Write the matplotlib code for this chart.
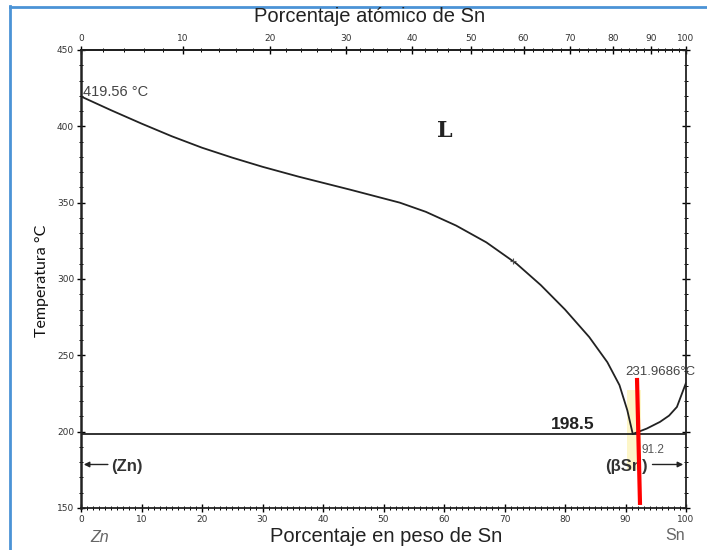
import matplotlib
matplotlib.use("Agg")
import matplotlib.pyplot as plt
import numpy as np
from matplotlib.lines import Line2D
from matplotlib.patches import Rectangle
from matplotlib.ticker import MultipleLocator

# Zn-Sn phase diagram (peso % Sn vs temperatura)
M_SN = 118.71
M_ZN = 65.38

# liquidus del lado Zn hasta el eutectico
liq_zn_wt = [0, 5, 10, 15, 20, 25, 30, 36, 44.5, 52.7, 57, 62, 67, 72, 76,
             80, 84, 87, 89, 90.3, 91.2]
liq_zn_T = [419.56, 410.5, 401.8, 393.5, 386.0, 379.5, 373.5, 367.0, 358.5, 350.0, 344.0,
            335.0, 324.0, 310.0, 296.0, 280.0, 262.0, 245.5, 230.5, 214.0, 198.5]

# liquidus del lado Sn
liq_sn_wt = [91.2, 93.5, 95.7, 97.2, 98.5, 100]
liq_sn_T = [198.5, 202.0, 206.4, 210.5, 216.2, 231.9686]

eutectic_T = 198.5

# linea roja marcada sobre el diagrama
red_wt = [91.9, 92.4]
red_T = [235.2, 152.0]

y_ticks = [150, 200, 250, 300, 350, 400, 450]
x_ticks = list(range(0, 101, 10))
at_ticks = list(range(0, 101, 10))


def wt_to_at(w):
    w = np.asarray(w, dtype=float)
    a = w / M_SN
    b = (100 - w) / M_ZN
    return 100 * a / (a + b)


def at_to_wt(x):
    x = np.asarray(x, dtype=float)
    a = x * M_SN
    b = (100 - x) * M_ZN
    return 100 * a / (a + b)


fig = plt.figure(figsize=(7.07, 5.5), dpi=100)
fig.patch.set_facecolor("white")
ax = fig.add_axes([81 / 707, 1 - 508 / 550, 605 / 707, 458 / 550])

line_kw = dict(color="#222222", lw=1.3, solid_joinstyle="round", solid_capstyle="round")
ax.plot(liq_zn_wt, liq_zn_T, **line_kw)
ax.plot(liq_sn_wt, liq_sn_T, **line_kw)
ax.plot([0, 100], [eutectic_T, eutectic_T], **line_kw)
ax.plot([71.4], [311.5], marker="+", ms=5, mew=0.8, color="#555555")

# zona resaltada en amarillo junto al eutectico
ax.add_patch(Rectangle((90.3, 175), 2.2, 52, facecolor="#fdf6c8", edgecolor="none", zorder=0))
ax.plot(red_wt, red_T, color="#ff0000", lw=3.0, solid_capstyle="butt", clip_on=False, zorder=5)

ax.set_xlim(0, 100)
ax.set_ylim(150, 450)
ax.set_xticks(x_ticks)
ax.set_yticks(y_ticks)
ax.xaxis.set_minor_locator(MultipleLocator(1))
ax.yaxis.set_minor_locator(MultipleLocator(10))
ax.tick_params(which="major", direction="inout", length=6, width=1.0, labelsize=6.5,
               labelcolor="#333333", right=True, pad=2)
ax.tick_params(which="minor", direction="inout", length=3, width=0.7, right=True)
for s in ax.spines.values():
    s.set_linewidth(1.3)
    s.set_color("#222222")
ax.spines["left"].set_linewidth(1.8)

top = ax.secondary_xaxis("top", functions=(wt_to_at, at_to_wt))
top.set_xticks(at_ticks)
top.xaxis.set_minor_locator(MultipleLocator(2))
top.tick_params(which="major", direction="inout", length=6, width=1.0, labelsize=6.5,
                labelcolor="#333333", pad=2)
top.tick_params(which="minor", direction="inout", length=3, width=0.7)
top.spines["top"].set_linewidth(1.3)

# textos dentro del diagrama
ax.text(0.3, 422.5, "419.56 °C", fontsize=10.5, color="#444444", ha="left", va="center",
        family="Liberation Sans")
ax.text(89.9, 239.0, "231.9686°C", fontsize=9.5, color="#444444", ha="left", va="center",
        family="Liberation Sans", clip_on=False)
ax.text(81.3, 205, "198.5", fontsize=12.5, fontweight="bold", color="#222222", ha="center",
        va="center", family="Liberation Sans")
ax.text(94.5, 188, "91.2", fontsize=8.5, color="#555555", ha="center", va="center",
        family="Liberation Sans")
ax.text(60.1, 397, "L", fontsize=16, fontweight="bold", color="#222222", ha="center",
        va="center", family="DejaVu Serif")
ax.text(5.0, 177, "(Zn)", fontsize=12, fontweight="bold", color="#333333", ha="left",
        va="center", family="Liberation Sans")
ax.text(93.7, 177, "(βSn)", fontsize=12, fontweight="bold", color="#333333", ha="right",
        va="center", family="Liberation Sans")
ax.annotate("", xy=(0, 178.5), xytext=(4.9, 178.5),
            arrowprops=dict(arrowstyle="-|>", color="#222222", lw=1.0, mutation_scale=8))
ax.annotate("", xy=(100, 178.5), xytext=(94.0, 178.5),
            arrowprops=dict(arrowstyle="-|>", color="#222222", lw=1.0, mutation_scale=8))

# titulos de los ejes
fig.text(370 / 707, 1 - 17 / 550, "Porcentaje atómico de Sn", fontsize=14.5, ha="center",
         va="center", color="#222222", family="Liberation Sans")
fig.text(386 / 707, 1 - 537 / 550, "Porcentaje en peso de Sn", fontsize=14.5, ha="center",
         va="center", color="#222222", family="Liberation Sans")
fig.text(100 / 707, 1 - 537 / 550, "Zn", fontsize=11.5, style="italic", ha="center",
         va="center", color="#666666", family="Liberation Sans")
fig.text(675 / 707, 1 - 536 / 550, "Sn", fontsize=11.5, ha="center", va="center",
         color="#666666", family="Liberation Sans")
fig.text(42 / 707, 1 - 281 / 550, "Temperatura °C", fontsize=11.5, rotation=90, ha="center",
         va="center", color="#111111", family="Lato",
         bbox=dict(facecolor="white", edgecolor="none", pad=3))

# marco azul
fig.add_artist(Line2D([10 / 707, 10 / 707], [0, 1 - 6 / 550], color="#4b93d6", lw=2.0))
fig.add_artist(Line2D([10 / 707, 1], [1 - 7 / 550, 1 - 7 / 550], color="#4b93d6", lw=2.0))

fig.savefig("out.png", dpi=100)
